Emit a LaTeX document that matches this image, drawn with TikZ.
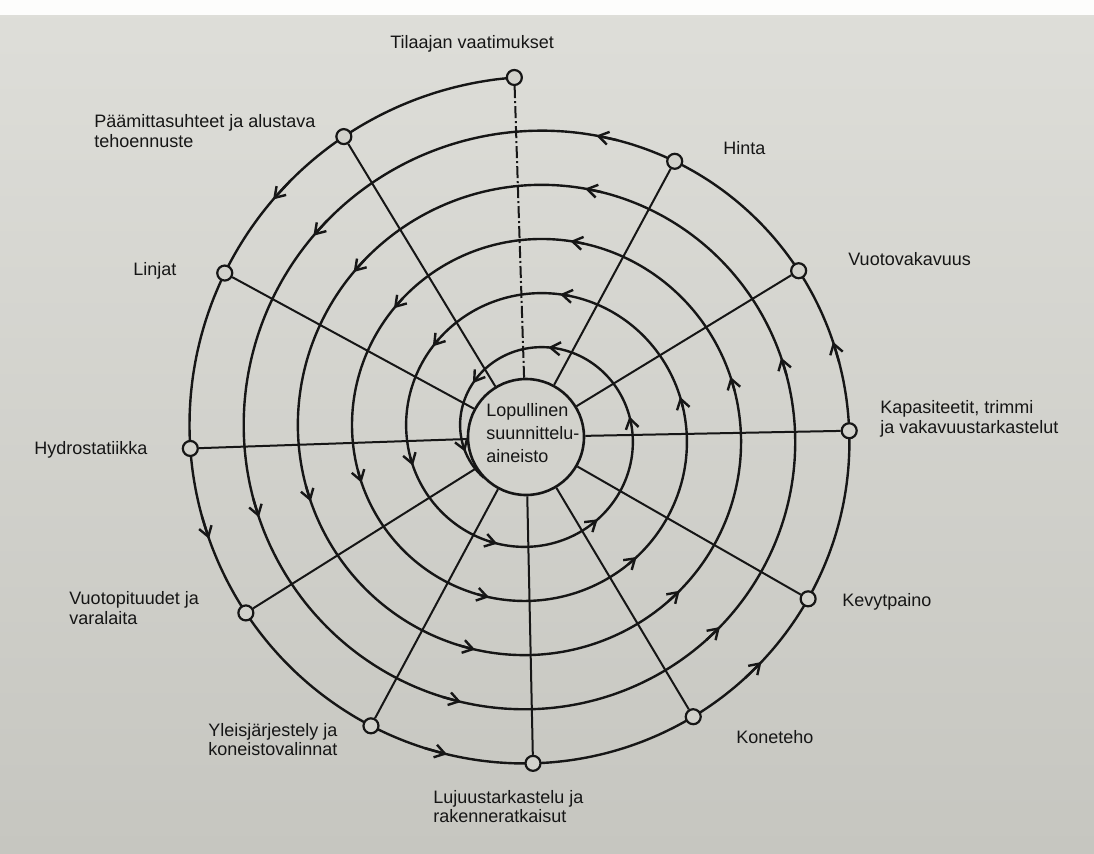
\documentclass[tikz,border=0pt]{standalone}
\usepackage{fontspec}
\setmainfont{Liberation Sans}
\usetikzlibrary{arrows.meta}
\definecolor{paper}{RGB}{210,210,204}
\definecolor{papertop}{RGB}{222,222,217}
\definecolor{paperbot}{RGB}{198,198,192}
\definecolor{ink}{RGB}{22,22,22}
\begin{document}
\begin{tikzpicture}[x=0.5pt,y=-0.5pt,
  font=\fontsize{9}{9.8}\selectfont,
  spiralline/.style={draw=ink,line width=1.2pt},
  spoke/.style={draw=ink,line width=1pt},
  dashspoke/.style={spoke,dash pattern=on 6pt off 1.5pt on 1pt off 1.5pt},
  marker/.style={circle,draw=ink,line width=1.1pt,fill=paper,minimum size=7.5pt,inner sep=0pt},
  core/.style={circle,draw=ink,line width=1.3pt,fill=paper,minimum size=58pt,inner sep=0pt},
  lbl/.style={inner sep=0pt,text=ink,align=left},
  tipseg/.style={spiralline,-{Straight Barb[length=5pt,width=6.5pt]}}
]
\useasboundingbox (0,0) rectangle (1094,853);
\fill[top color=papertop,bottom color=paperbot] (0,0) rectangle (1094,853);
\fill[white!95!paper] (0,0) rectangle (1094,15);

% spiral
\draw[spiralline] plot[domain=93:2022,samples=600,smooth,variable=\t]
  ({533+(356.5-0.150556*(\t-93))*cos(\t)},{433.5-(356.5-0.150556*(\t-93))*sin(\t)});

% arrowheads along the spiral
\foreach \a in {138,198,255,315,377,438,498,557,615,674,737,798,858,917,975,1033,1096,1159,1218,1276,1335,1390,1454,1519,1579,1635,1692,1747,1810,1880,1940,1995}{
  \pgfmathsetmacro\ra{356.5-0.150556*(\a-93)}
  \pgfmathsetmacro\rb{356.5-0.150556*(\a-97)}
  \draw[tipseg] ({533+\rb*cos(\a-4)},{433.5-\rb*sin(\a-4)}) -- ({533+\ra*cos(\a)},{433.5-\ra*sin(\a)});
}

% markers on the outer turn
\foreach \a/\n in {93/m0,122.5/m1,152.5/m2,182.5/m3,212/m4,241/m5,270/m6,299.5/m7,329/m8,360.5/m9,391.5/m10,422.5/m11}{
  \pgfmathsetmacro\rr{356.5-0.150556*(\a-93)}
  \node[marker] (\n) at ({533+\rr*cos(\a)},{433.5-\rr*sin(\a)}) {};
}

% centre circle
\node[core] (core) at (526,437) {};
\node[lbl,anchor=north west,font=\fontsize{9}{11.5}\selectfont] (coretext) at (486,403) {Lopullinen\\suunnittelu-\\aineisto};

% spokes
\draw[dashspoke] (m0) -- (core);
\foreach \n in {m1,m2,m3,m4,m5,m6,m7,m8,m9,m10,m11}{
  \draw[spoke] (\n) -- (core);
}

% labels
\node[lbl,anchor=base west] (l0) at (390,48) {Tilaajan vaatimukset};
\node[lbl,anchor=north west] (l1) at (94,114.5) {Päämittasuhteet ja alustava\\tehoennuste};
\node[lbl,anchor=base west] (l2) at (133,275.5) {Linjat};
\node[lbl,anchor=base west] (l3) at (34,454) {Hydrostatiikka};
\node[lbl,anchor=north west] (l4) at (69,591) {Vuotopituudet ja\\varalaita};
\node[lbl,anchor=north west] (l5) at (208,722.7) {Yleisjärjestely ja\\koneistovalinnat};
\node[lbl,anchor=north west] (l6) at (433,789.7) {Lujuustarkastelu ja\\rakenneratkaisut};
\node[lbl,anchor=base west] (l7) at (736,743) {Koneteho};
\node[lbl,anchor=base west] (l8) at (842,606) {Kevytpaino};
\node[lbl,anchor=north west] (l9) at (880,400.3) {Kapasiteetit, trimmi\\ja vakavuustarkastelut};
\node[lbl,anchor=base west] (l10) at (848,265) {Vuotovakavuus};
\node[lbl,anchor=base west] (l11) at (723,154) {Hinta};
\end{tikzpicture}
\end{document}
